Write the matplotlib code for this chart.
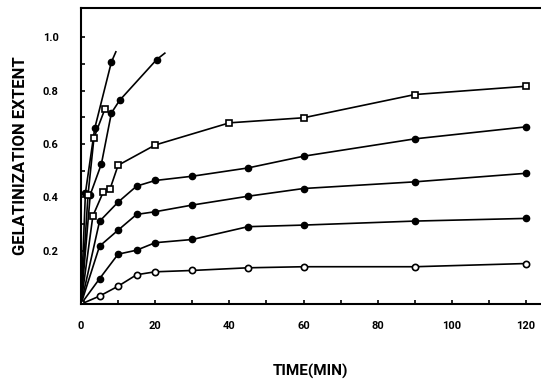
import matplotlib.pyplot as plt

plt.rcParams['font.family'] = ['Roboto', 'DejaVu Sans']

# gelatinization curves, bottom to top (time in min, extent)
t_long = [0, 5, 10, 15, 20, 30, 45, 60, 90, 120]
ext_1 = [0, 0.03, 0.067, 0.11, 0.121, 0.126, 0.136, 0.14, 0.14, 0.152]
ext_2 = [0, 0.095, 0.187, 0.202, 0.23, 0.242, 0.29, 0.296, 0.311, 0.321]
ext_3 = [0, 0.217, 0.277, 0.336, 0.346, 0.371, 0.404, 0.433, 0.458, 0.49]
ext_4 = [0, 0.31, 0.382, 0.442, 0.463, 0.479, 0.51, 0.554, 0.619, 0.664]

t_5 = [0, 3.2, 6, 7.8, 10, 20, 40, 60, 90, 120]
ext_5 = [0, 0.33, 0.42, 0.43, 0.52, 0.596, 0.679, 0.698, 0.785, 0.816]

# short runs, last point is where the drawn line stops (no marker)
t_6 = [0, 2.5, 5.5, 8.2, 10.4, 20.4, 22.6]
ext_6 = [0, 0.41, 0.525, 0.716, 0.763, 0.916, 0.94]
t_7 = [0, 1.2, 3.7, 8.2, 9.4]
ext_7 = [0, 0.417, 0.658, 0.907, 0.945]
t_8 = [0, 1.9, 3.5, 6.4]
ext_8 = [0, 0.41, 0.623, 0.729]

fig = plt.figure(figsize=(5.41, 3.83), dpi=100)
ax = fig.add_axes([0.1497, 0.206, 0.8503, 0.773])

open_c = dict(marker='o', mfc='white', mec='black', mew=1.2, ms=4.5)
open_s = dict(marker='s', mfc='white', mec='black', mew=1.2, ms=4.5)
full_c = dict(marker='o', mfc='black', mec='black', ms=4.5)

ax.plot(t_long, ext_1, color='black', lw=1.2, **open_c)
ax.plot(t_long, ext_2, color='black', lw=1.2, **full_c)
ax.plot(t_long, ext_3, color='black', lw=1.2, **full_c)
ax.plot(t_long, ext_4, color='black', lw=1.2, **full_c)
ax.plot(t_5, ext_5, color='black', lw=1.2, **open_s)
ax.plot(t_6, ext_6, color='black', lw=1.2, markevery=list(range(1, len(t_6) - 1)), **full_c)
ax.plot(t_7, ext_7, color='black', lw=1.2, markevery=list(range(1, len(t_7) - 1)), **full_c)
ax.plot(t_8, ext_8, color='black', lw=1.2, markevery=list(range(1, len(t_8))), **open_s)

ax.set_xlim(0, 124)
ax.set_ylim(0, 1.109)

ax.set_xticks([0, 20, 40, 60, 80, 100, 120])
ax.set_xticks(range(0, 121, 10), minor=True)
ax.set_yticks([0.2, 0.4, 0.6, 0.8, 1.0])
ax.set_yticks([0.1, 0.3, 0.5, 0.7, 0.9], minor=True)
ax.set_yticklabels(['0.2', '0.4', '0.6', '0.8', '1.0'])
ax.tick_params(which='both', direction='in', length=3, width=1.2)
ax.tick_params(axis='x', which='major', pad=12, labelsize=8)
ax.tick_params(axis='y', which='major', pad=16, labelsize=8)
for lab in ax.get_xticklabels() + ax.get_yticklabels():
    lab.set_fontweight('bold')

for side in ['left', 'bottom', 'top']:
    ax.spines[side].set_linewidth(1.5)
ax.spines['right'].set_visible(False)

ax.set_xlabel('TIME(MIN)', fontsize=11, fontweight='bold', labelpad=24)
ax.set_ylabel('GELATINIZATION EXTENT', fontsize=12, fontweight='bold', labelpad=11)

fig.savefig('out.png', dpi=100)
